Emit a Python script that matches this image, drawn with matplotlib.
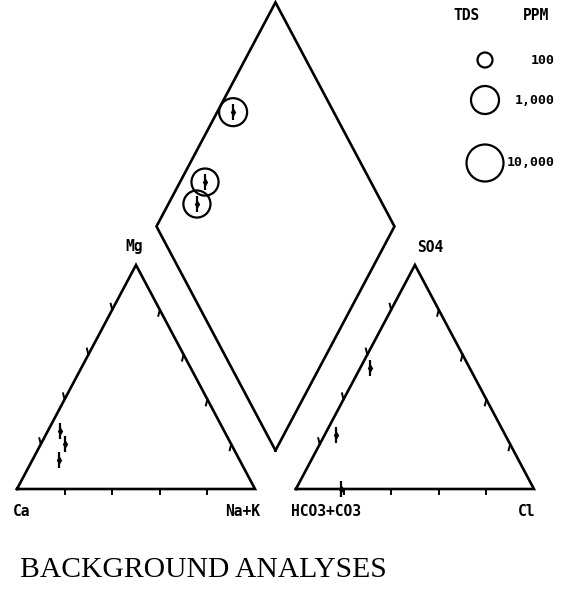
import numpy as np
import matplotlib
matplotlib.use('Agg')
import matplotlib.pyplot as plt

# ── Sample chemistry (percent of meq/L) ─────────────────────────────────────
CAT_MG  = [26, 20, 13]
CAT_NAK = [5, 10, 11]
AN_SO4  = [54, 24, 0]
AN_CL   = [4, 5, 19]
# diamond projection: Ca+Mg and SO4+Cl fractions, plus total dissolved solids
DIA_CAMG  = [93.3, 89.5, 88.0]
DIA_SO4CL = [57.7, 30.3, 22.0]
TDS_PPM   = [1000, 850, 850]

LEGEND_TDS   = [100, 1000, 10000]
LEGEND_TEXT  = ["100", "1,000", "10,000"]
CORNER_CAT = ["Ca", "Mg", "Na+K"]
CORNER_AN  = ["HCO3+CO3", "SO4", "Cl"]
TITLE = "BACKGROUND ANALYSES"

# ── Geometry ───────────────────────────────────────────────────────────────
H   = np.sqrt(3) / 2
GAP = 0.172
OFF = 1 + GAP                      # x offset of the anion triangle
B   = np.array([1 + GAP / 2, GAP * H])   # bottom corner of the diamond

W, Hpx = 567, 599
X0, SX = 17, 238                   # pixel placement of the unit triangle
Y0, SY = 489, 258.7

LABEL_FONT = dict(family=["DejaVu Sans Mono"], fontweight="bold", fontsize=10.5)
LW = 1.9


def cat_xy(mg, nak):
    mg, nak = np.asarray(mg) / 100, np.asarray(nak) / 100
    return nak + mg / 2, mg * H


def an_xy(so4, cl):
    so4, cl = np.asarray(so4) / 100, np.asarray(cl) / 100
    return OFF + cl + so4 / 2, so4 * H


def dia_xy(camg, so4cl):
    a, b = np.asarray(camg) / 100, np.asarray(so4cl) / 100
    return B[0] + (b - a) / 2, B[1] + (a + b) * H


def tds_radius(tds):
    # circle radius in pixels against the legend scale
    return np.interp(np.log10(tds), [2, 3, 4], [7.5, 14, 18.5])


def px(x, y):
    return (x - X0) / SX, (Y0 - y) / SY


def sample_mark(ax, x, y):
    ax.plot(x, y, ls="none", marker="|", ms=11.5, mew=1.6, color="black", zorder=4)
    ax.plot(x, y, ls="none", marker="d", ms=3.2, color="black", zorder=4)


def edge_ticks(ax, p0, p1, direction):
    # short hooks at 20 % steps along an edge, sized in pixels
    for f in (0.2, 0.4, 0.6, 0.8):
        x = p0[0] + f * (p1[0] - p0[0])
        y = p0[1] + f * (p1[1] - p0[1])
        dx, dy = direction
        ax.plot([x, x + dx / SX], [y, y + dy / SY], color="black", lw=1.4)


fig = plt.figure(figsize=(W / 100, Hpx / 100), dpi=100)
ax = fig.add_axes([0, 0, 1, 1])
ax.set_xlim(px(0, 0)[0], px(W, 0)[0])
ax.set_ylim(px(0, Hpx)[1], px(0, 0)[1])
ax.axis("off")

# triangles and diamond
for off in (0, OFF):
    ax.plot([off, off + 1, off + 0.5, off], [0, 0, H, 0], color="black", lw=LW,
            solid_joinstyle="miter")
    for f in (0.2, 0.4, 0.6, 0.8):
        ax.plot([off + f, off + f], [0, -5 / SY], color="black", lw=1.4)
    edge_ticks(ax, (off, 0), (off + 0.5, H), (-1.5, 6))
    edge_ticks(ax, (off + 1, 0), (off + 0.5, H), (-1.5, -6))

L = B + np.array([-0.5, H])
R = B + np.array([0.5, H])
T = B + np.array([0, 2 * H])
dia = np.array([B, L, T, R, B])
ax.plot(dia[:, 0], dia[:, 1], color="black", lw=LW, solid_joinstyle="miter")

# samples
cx, cy = cat_xy(CAT_MG, CAT_NAK)
sample_mark(ax, cx, cy)
ax_, ay = an_xy(AN_SO4, AN_CL)
sample_mark(ax, ax_, ay)
dx, dy = dia_xy(DIA_CAMG, DIA_SO4CL)
sample_mark(ax, dx, dy)
for x, y, t in zip(dx, dy, TDS_PPM):
    r = tds_radius(t)
    ax.scatter(x, y, s=(2 * r * 0.72) ** 2, facecolors="none", edgecolors="black",
               linewidths=1.6, zorder=3)

# corner labels
ax.text(*px(22, 512), CORNER_CAT[0], ha="center", va="center", **LABEL_FONT)
ax.text(*px(134, 246), CORNER_CAT[1], ha="center", va="center", **LABEL_FONT)
ax.text(*px(243, 512), CORNER_CAT[2], ha="center", va="center", **LABEL_FONT)
ax.text(*px(326, 512), CORNER_AN[0], ha="center", va="center", **LABEL_FONT)
ax.text(*px(430, 247), CORNER_AN[1], ha="center", va="center", **LABEL_FONT)
ax.text(*px(527, 512), CORNER_AN[2], ha="center", va="center", **LABEL_FONT)

# TDS legend
ax.text(*px(466, 16), "TDS", ha="center", va="center", **LABEL_FONT)
ax.text(*px(536, 16), "PPM", ha="center", va="center", **LABEL_FONT)
for yy, t, lab in zip([60, 100, 163], LEGEND_TDS, LEGEND_TEXT):
    r = tds_radius(t)
    ax.scatter(*px(485, yy), s=(2 * r * 0.72) ** 2, facecolors="none",
               edgecolors="black", linewidths=1.6)
    ax.text(*px(555, yy), lab, ha="right", va="center",
            family=["DejaVu Sans Mono"], fontweight="bold", fontsize=9.5)

ax.text(*px(20, 570), TITLE, ha="left", va="center",
        family=["Liberation Serif", "DejaVu Serif"], fontsize=21.3)

fig.savefig("out.png", dpi=100)
